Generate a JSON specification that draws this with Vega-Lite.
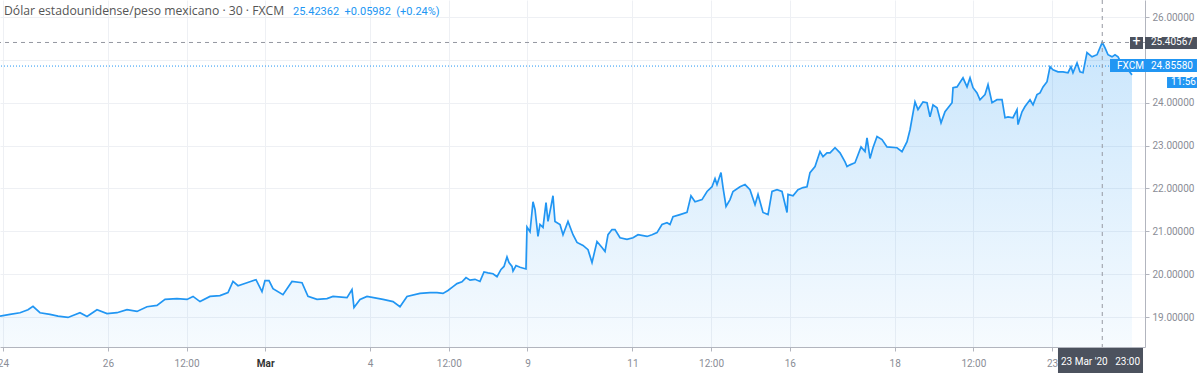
{
  "$schema": "https://vega.github.io/schema/vega-lite/v6.json",
  "width": 1145,
  "height": 347,
  "autosize": {"type": "none"},
  "padding": {"left": 0, "top": 0, "right": 55, "bottom": 26},
  "background": "white",
  "config": {"view": {"stroke": null}, "font": "Roboto"},
  "datasets": {
    "usdmxn": [
      {"day": -0.057, "rate": 19.02}, {"day": 0.133, "rate": 19.06}, {"day": 0.324, "rate": 19.10}, {"day": 0.477, "rate": 19.17},
      {"day": 0.572, "rate": 19.25}, {"day": 0.705, "rate": 19.10}, {"day": 0.896, "rate": 19.06}, {"day": 1.049, "rate": 19.02},
      {"day": 1.239, "rate": 18.99}, {"day": 1.468, "rate": 19.10}, {"day": 1.602, "rate": 19.01}, {"day": 1.792, "rate": 19.17},
      {"day": 1.983, "rate": 19.08}, {"day": 2.174, "rate": 19.10}, {"day": 2.364, "rate": 19.17}, {"day": 2.555, "rate": 19.13},
      {"day": 2.745, "rate": 19.24}, {"day": 2.936, "rate": 19.27}, {"day": 3.089, "rate": 19.41}, {"day": 3.317, "rate": 19.43},
      {"day": 3.508, "rate": 19.41}, {"day": 3.623, "rate": 19.48}, {"day": 3.756, "rate": 19.36}, {"day": 3.947, "rate": 19.48},
      {"day": 4.137, "rate": 19.50}, {"day": 4.290, "rate": 19.57}, {"day": 4.385, "rate": 19.83}, {"day": 4.481, "rate": 19.73},
      {"day": 4.652, "rate": 19.80}, {"day": 4.824, "rate": 19.87}, {"day": 4.938, "rate": 19.59}, {"day": 4.995, "rate": 19.85},
      {"day": 5.072, "rate": 19.85}, {"day": 5.148, "rate": 19.66}, {"day": 5.338, "rate": 19.52}, {"day": 5.510, "rate": 19.83},
      {"day": 5.701, "rate": 19.80}, {"day": 5.815, "rate": 19.48}, {"day": 5.987, "rate": 19.41}, {"day": 6.177, "rate": 19.43},
      {"day": 6.292, "rate": 19.48}, {"day": 6.559, "rate": 19.45}, {"day": 6.654, "rate": 19.64}, {"day": 6.692, "rate": 19.22},
      {"day": 6.807, "rate": 19.41}, {"day": 6.940, "rate": 19.48}, {"day": 7.245, "rate": 19.41}, {"day": 7.436, "rate": 19.36},
      {"day": 7.569, "rate": 19.24}, {"day": 7.703, "rate": 19.48}, {"day": 7.950, "rate": 19.55}, {"day": 8.141, "rate": 19.57},
      {"day": 8.275, "rate": 19.57}, {"day": 8.389, "rate": 19.55}, {"day": 8.484, "rate": 19.62}, {"day": 8.580, "rate": 19.71},
      {"day": 8.656, "rate": 19.78}, {"day": 8.751, "rate": 19.82}, {"day": 8.828, "rate": 19.92}, {"day": 8.904, "rate": 19.86},
      {"day": 8.999, "rate": 19.88}, {"day": 9.094, "rate": 19.83}, {"day": 9.171, "rate": 20.05}, {"day": 9.247, "rate": 20.03},
      {"day": 9.342, "rate": 20.01}, {"day": 9.419, "rate": 19.94}, {"day": 9.495, "rate": 20.11}, {"day": 9.552, "rate": 20.18},
      {"day": 9.609, "rate": 20.40}, {"day": 9.647, "rate": 20.27}, {"day": 9.705, "rate": 20.18}, {"day": 9.724, "rate": 20.07},
      {"day": 9.781, "rate": 20.20}, {"day": 9.857, "rate": 20.16}, {"day": 9.971, "rate": 20.12}, {"day": 9.990, "rate": 21.10},
      {"day": 10.048, "rate": 20.99}, {"day": 10.105, "rate": 21.69}, {"day": 10.143, "rate": 21.51}, {"day": 10.200, "rate": 20.88},
      {"day": 10.238, "rate": 21.16}, {"day": 10.296, "rate": 21.09}, {"day": 10.353, "rate": 21.67}, {"day": 10.391, "rate": 21.23},
      {"day": 10.448, "rate": 21.58}, {"day": 10.486, "rate": 21.83}, {"day": 10.524, "rate": 21.23}, {"day": 10.620, "rate": 21.16},
      {"day": 10.677, "rate": 20.92}, {"day": 10.772, "rate": 21.23}, {"day": 10.868, "rate": 20.92}, {"day": 10.944, "rate": 20.74},
      {"day": 11.058, "rate": 20.67}, {"day": 11.154, "rate": 20.57}, {"day": 11.230, "rate": 20.27}, {"day": 11.325, "rate": 20.76},
      {"day": 11.420, "rate": 20.62}, {"day": 11.478, "rate": 20.53}, {"day": 11.535, "rate": 20.92}, {"day": 11.611, "rate": 21.04},
      {"day": 11.668, "rate": 21.04}, {"day": 11.764, "rate": 20.85}, {"day": 11.897, "rate": 20.81}, {"day": 12.012, "rate": 20.85},
      {"day": 12.107, "rate": 20.92}, {"day": 12.279, "rate": 20.88}, {"day": 12.374, "rate": 20.92}, {"day": 12.469, "rate": 20.97},
      {"day": 12.564, "rate": 21.16}, {"day": 12.660, "rate": 21.20}, {"day": 12.717, "rate": 21.16}, {"day": 12.774, "rate": 21.34},
      {"day": 12.908, "rate": 21.39}, {"day": 13.041, "rate": 21.44}, {"day": 13.117, "rate": 21.83}, {"day": 13.194, "rate": 21.69},
      {"day": 13.327, "rate": 21.74}, {"day": 13.423, "rate": 21.93}, {"day": 13.518, "rate": 22.04}, {"day": 13.575, "rate": 22.23},
      {"day": 13.613, "rate": 22.09}, {"day": 13.689, "rate": 22.37}, {"day": 13.728, "rate": 22.02}, {"day": 13.785, "rate": 21.58},
      {"day": 13.861, "rate": 21.74}, {"day": 13.918, "rate": 21.93}, {"day": 14.052, "rate": 22.04}, {"day": 14.147, "rate": 22.09},
      {"day": 14.242, "rate": 21.97}, {"day": 14.338, "rate": 21.62}, {"day": 14.395, "rate": 21.86}, {"day": 14.490, "rate": 21.44},
      {"day": 14.586, "rate": 21.39}, {"day": 14.662, "rate": 21.93}, {"day": 14.757, "rate": 21.97}, {"day": 14.852, "rate": 21.93},
      {"day": 14.948, "rate": 21.44}, {"day": 14.967, "rate": 21.86}, {"day": 15.062, "rate": 21.83}, {"day": 15.157, "rate": 21.97},
      {"day": 15.253, "rate": 22.02}, {"day": 15.329, "rate": 22.04}, {"day": 15.386, "rate": 22.37}, {"day": 15.482, "rate": 22.51},
      {"day": 15.577, "rate": 22.86}, {"day": 15.634, "rate": 22.74}, {"day": 15.710, "rate": 22.83}, {"day": 15.768, "rate": 22.83},
      {"day": 15.863, "rate": 22.95}, {"day": 15.958, "rate": 22.83}, {"day": 16.054, "rate": 22.62}, {"day": 16.092, "rate": 22.51},
      {"day": 16.149, "rate": 22.55}, {"day": 16.244, "rate": 22.60}, {"day": 16.359, "rate": 22.97}, {"day": 16.435, "rate": 22.86},
      {"day": 16.473, "rate": 23.18}, {"day": 16.530, "rate": 22.70}, {"day": 16.587, "rate": 22.95}, {"day": 16.664, "rate": 23.21},
      {"day": 16.759, "rate": 23.14}, {"day": 16.854, "rate": 22.97}, {"day": 17.045, "rate": 22.95}, {"day": 17.140, "rate": 22.86},
      {"day": 17.236, "rate": 23.09}, {"day": 17.293, "rate": 23.37}, {"day": 17.388, "rate": 24.02}, {"day": 17.445, "rate": 23.84},
      {"day": 17.541, "rate": 24.02}, {"day": 17.617, "rate": 24.00}, {"day": 17.674, "rate": 23.67}, {"day": 17.731, "rate": 23.95},
      {"day": 17.808, "rate": 23.88}, {"day": 17.884, "rate": 23.53}, {"day": 17.960, "rate": 23.79}, {"day": 18.094, "rate": 24.00},
      {"day": 18.113, "rate": 24.35}, {"day": 18.189, "rate": 24.37}, {"day": 18.303, "rate": 24.58}, {"day": 18.380, "rate": 24.37},
      {"day": 18.437, "rate": 24.58}, {"day": 18.494, "rate": 24.35}, {"day": 18.570, "rate": 24.23}, {"day": 18.627, "rate": 24.07},
      {"day": 18.723, "rate": 24.19}, {"day": 18.780, "rate": 24.42}, {"day": 18.856, "rate": 24.00}, {"day": 18.951, "rate": 24.07},
      {"day": 19.047, "rate": 24.07}, {"day": 19.104, "rate": 23.65}, {"day": 19.161, "rate": 23.67}, {"day": 19.256, "rate": 23.65},
      {"day": 19.333, "rate": 23.84}, {"day": 19.352, "rate": 23.49}, {"day": 19.428, "rate": 23.79}, {"day": 19.485, "rate": 23.91},
      {"day": 19.581, "rate": 24.07}, {"day": 19.638, "rate": 23.95}, {"day": 19.714, "rate": 24.19}, {"day": 19.771, "rate": 24.23},
      {"day": 19.829, "rate": 24.37}, {"day": 19.905, "rate": 24.49}, {"day": 19.962, "rate": 24.84}, {"day": 20.019, "rate": 24.77},
      {"day": 20.114, "rate": 24.72}, {"day": 20.210, "rate": 24.72}, {"day": 20.305, "rate": 24.70}, {"day": 20.362, "rate": 24.84},
      {"day": 20.400, "rate": 24.70}, {"day": 20.477, "rate": 24.93}, {"day": 20.534, "rate": 24.72}, {"day": 20.591, "rate": 24.70},
      {"day": 20.667, "rate": 25.17}, {"day": 20.763, "rate": 25.07}, {"day": 20.858, "rate": 25.12}, {"day": 20.958, "rate": 25.41},
      {"day": 21.011, "rate": 25.28}, {"day": 21.068, "rate": 25.12}, {"day": 21.144, "rate": 25.07}, {"day": 21.201, "rate": 25.12},
      {"day": 21.259, "rate": 25.07}, {"day": 21.354, "rate": 24.84}, {"day": 21.449, "rate": 24.77}, {"day": 21.525, "rate": 24.65}
    ]
  },
  "encoding": {
    "x": {
      "type": "quantitative",
      "scale": {"domain": [-0.057, 21.773], "nice": false, "zero": false},
      "axis": {
        "title": null, "orient": "bottom", "zindex": 0,
        "values": [0, 2, 3.5, 5, 7, 8.5, 10, 12, 13.5, 15, 17, 18.5, 20],
        "labelExpr": "datum.value==0?'24':datum.value==2?'26':datum.value==5?'Mar':datum.value==7?'4':datum.value==10?'9':datum.value==12?'11':datum.value==15?'16':datum.value==17?'18':datum.value==20?'23':'12:00'",
        "grid": true, "gridColor": "#eef0f4", "gridWidth": 1,
        "domainColor": "#b2b5be", "tickColor": "#b2b5be", "tickSize": 4,
        "labelPadding": 7, "labelFontSize": 10, "labelFont": "Roboto",
        "labelColor": {"condition": {"test": "datum.value == 5", "value": "#333333"}, "value": "#8a8d96"},
        "labelFontWeight": {"condition": {"test": "datum.value == 5", "value": "bold"}, "value": "normal"},
        "labelFlush": false, "labelOverlap": false, "labelBound": false
      }
    },
    "y": {
      "type": "quantitative",
      "scale": {"domain": [18.30, 26.397], "nice": false, "zero": false},
      "axis": {
        "title": null, "orient": "right", "zindex": 0,
        "values": [19, 20, 21, 22, 23, 24, 25, 26],
        "labelExpr": "datum.value == 25 ? '' : format(datum.value, '.5f')",
        "grid": true, "gridColor": "#eef0f4", "gridWidth": 1,
        "domainColor": "#b2b5be", "tickColor": "#b2b5be", "tickSize": 4,
        "labelPadding": 3, "labelFontSize": 10, "labelFont": "Roboto",
        "labelColor": "#8a8d96", "labelBaseline": "middle"
      }
    }
  },
  "layer": [
    {
      "data": {"name": "usdmxn"},
      "mark": {
        "type": "area",
        "line": false,
        "fill": {
          "gradient": "linear", "x1": 0, "y1": 0, "x2": 0, "y2": 1,
          "stops": [
            {"offset": 0, "color": "rgba(33,150,243,0.24)"},
            {"offset": 1, "color": "rgba(33,150,243,0.04)"}
          ]
        }
      },
      "encoding": {
        "x": {"field": "day"},
        "y": {"field": "rate"},
        "y2": {"datum": 18.30}
      }
    },
    {
      "data": {"name": "usdmxn"},
      "mark": {"type": "line", "color": "#2196f3", "strokeWidth": 1.7},
      "encoding": {
        "x": {"field": "day"},
        "y": {"field": "rate"}
      }
    },
    {
      "data": {"values": [{}]},
      "mark": {"type": "rule", "color": "#2196f3", "strokeWidth": 1, "strokeDash": [1, 2]},
      "encoding": {"x": null, "y": {"datum": 24.8558}}
    },
    {
      "data": {"values": [{}]},
      "mark": {"type": "rule", "color": "#9598a1", "strokeWidth": 1, "strokeDash": [4, 4]},
      "encoding": {"x": null, "y": {"datum": 25.40567}}
    },
    {
      "data": {"values": [{}]},
      "mark": {"type": "rule", "color": "#9598a1", "strokeWidth": 1, "strokeDash": [4, 4]},
      "encoding": {"x": {"datum": 20.958}, "y": null}
    },
    {
      "data": {"values": [{}]},
      "mark": {"type": "rect", "color": "#4c525e"},
      "encoding": {
        "x": {"datum": 21.487}, "x2": {"datum": 21.735},
        "y": {"datum": 25.534}, "y2": {"datum": 25.254}
      }
    },
    {
      "data": {"values": [{}]},
      "mark": {"type": "rect", "color": "#4c525e"},
      "encoding": {
        "x": {"datum": 21.773}, "x2": {"datum": 22.764},
        "y": {"datum": 25.534}, "y2": {"datum": 25.254}
      }
    },
    {
      "data": {"values": [{}]},
      "mark": {"type": "rect", "color": "#2196f3"},
      "encoding": {
        "x": {"datum": 21.106}, "x2": {"datum": 22.764},
        "y": {"datum": 25.020}, "y2": {"datum": 24.717}
      }
    },
    {
      "data": {"values": [{}]},
      "mark": {"type": "rect", "color": "#2196f3"},
      "encoding": {
        "x": {"datum": 22.193}, "x2": {"datum": 22.764},
        "y": {"datum": 24.600}, "y2": {"datum": 24.344}
      }
    },
    {
      "data": {"values": [{}]},
      "mark": {"type": "rect", "color": "#4c525e"},
      "encoding": {
        "x": {"datum": 20.114}, "x2": {"datum": 21.735},
        "y": {"datum": 18.277}, "y2": {"datum": 17.694}
      }
    },
    {
      "data": {"values": [{}]},
      "mark": {"type": "text", "text": "+", "color": "white", "fontSize": 14, "align": "center", "baseline": "middle", "font": "Roboto"},
      "encoding": {"x": {"datum": 21.611}, "y": {"datum": 25.40567}}
    },
    {
      "data": {"values": [{}]},
      "mark": {"type": "text", "text": "25.40567", "color": "white", "fontSize": 10, "align": "left", "baseline": "middle", "font": "Roboto"},
      "encoding": {"x": {"datum": 21.887}, "y": {"datum": 25.40567}}
    },
    {
      "data": {"values": [{}]},
      "mark": {"type": "text", "text": "FXCM", "color": "white", "fontSize": 10, "align": "left", "baseline": "middle", "font": "Roboto"},
      "encoding": {"x": {"datum": 21.239}, "y": {"datum": 24.8558}}
    },
    {
      "data": {"values": [{}]},
      "mark": {"type": "text", "text": "24.85580", "color": "white", "fontSize": 10, "align": "left", "baseline": "middle", "font": "Roboto"},
      "encoding": {"x": {"datum": 21.887}, "y": {"datum": 24.8558}}
    },
    {
      "data": {"values": [{}]},
      "mark": {"type": "text", "text": "11:56", "color": "white", "fontSize": 10, "align": "left", "baseline": "middle", "font": "Roboto"},
      "encoding": {"x": {"datum": 22.269}, "y": {"datum": 24.472}}
    },
    {
      "data": {"values": [{}]},
      "mark": {"type": "text", "text": "23 Mar '20\u00a0\u00a0\u00a023:00", "color": "white", "fontSize": 10, "align": "center", "baseline": "middle", "font": "Roboto"},
      "encoding": {"x": {"datum": 20.925}, "y": {"datum": 17.955}}
    },
    {
      "data": {"values": [{}]},
      "mark": {"type": "text", "text": "Dólar estadounidense/peso mexicano · 30 · FXCM", "color": "#555555", "fontSize": 12.2, "align": "left", "baseline": "alphabetic", "font": "Open Sans"},
      "encoding": {"x": {"datum": 0.019}, "y": {"datum": 26.047}}
    },
    {
      "data": {"values": [{}]},
      "mark": {"type": "text", "text": "25.42362\u00a0\u00a0+0.05982\u00a0\u00a0(+0.24%)", "color": "#2196f3", "fontSize": 11, "align": "left", "baseline": "alphabetic", "font": "Roboto"},
      "encoding": {"x": {"datum": 5.529}, "y": {"datum": 26.047}}
    }
  ]
}
